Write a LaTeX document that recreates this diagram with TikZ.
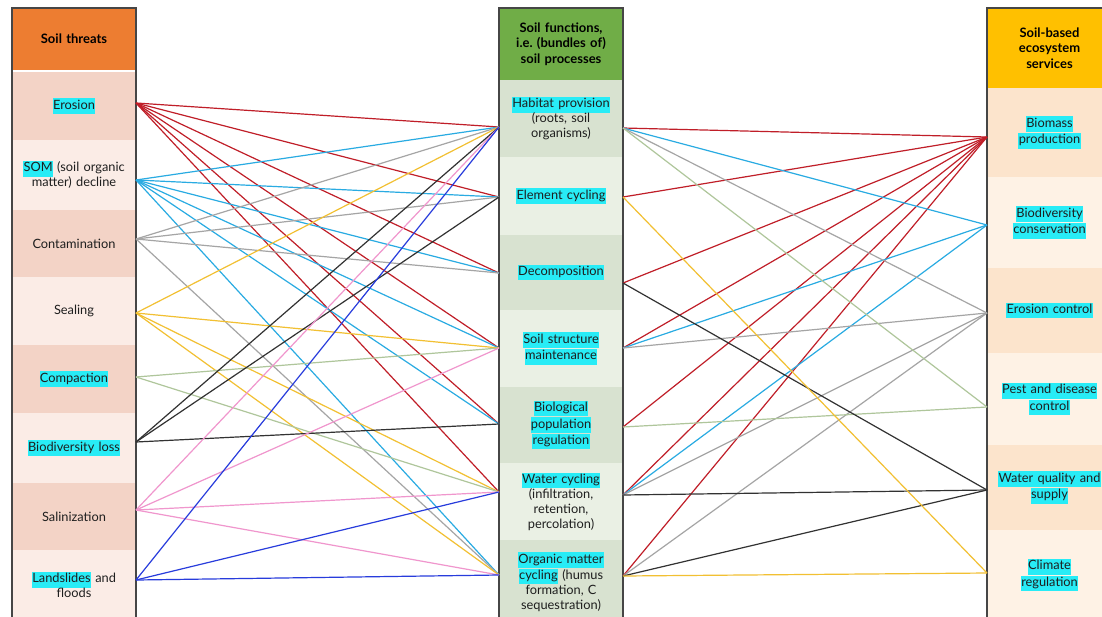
\documentclass[tikz,border=0pt]{standalone}
\usepackage{fontspec}
\setmainfont{Lato}
\frenchspacing
\definecolor{orangeH}{RGB}{237,125,49}
\definecolor{Ld}{RGB}{243,211,198}
\definecolor{Ll}{RGB}{251,236,230}
\definecolor{greenH}{RGB}{112,173,71}
\definecolor{Md}{RGB}{216,226,208}
\definecolor{Ml}{RGB}{234,240,228}
\definecolor{goldH}{RGB}{255,192,0}
\definecolor{Rd}{RGB}{252,228,204}
\definecolor{Rl}{RGB}{254,242,229}
\definecolor{framec}{RGB}{70,70,70}
\definecolor{txt}{RGB}{30,30,30}
\definecolor{hlc}{RGB}{40,236,246}
\definecolor{cred}{RGB}{192,30,40}
\definecolor{ccyan}{RGB}{41,171,226}
\definecolor{cgray}{RGB}{165,165,165}
\definecolor{cyel}{RGB}{242,192,50}
\definecolor{cgreen}{RGB}{175,198,155}
\definecolor{cblack}{RGB}{50,50,50}
\definecolor{cpink}{RGB}{240,150,205}
\definecolor{cblue}{RGB}{40,60,220}
\newcommand\hl[1]{{\setlength{\fboxsep}{0.3pt}\colorbox{hlc}{\strut #1}}}
\begin{document}
\begin{tikzpicture}[x=1pt,y=-1pt,
  every node/.style={font=\fontsize{12.8}{15}\selectfont, text=txt},
  cellL/.style={inner sep=0pt, align=center, text width=122pt, minimum width=124pt},
  cellR/.style={inner sep=0pt, align=center, text width=123pt, minimum width=125pt},
  hdr/.style={font=\fontsize{13}{15.5}\selectfont\bfseries, text=black},
  frame/.style={draw=framec, line width=1.3pt},
  con/.style={line width=1.2pt}]
\useasboundingbox (0,0) rectangle (1102,616);
\fill[white] (0,0) rectangle (1102,616);

% ---------- left column ----------
\node[cellL, hdr, fill=orangeH, minimum height=62pt] (Lh) at (74,39) {Soil threats};
\node[cellL, fill=Ld, minimum height=68pt] (ero) at (74,106) {\hl{Erosion}};
\node[cellL, fill=Ll, minimum height=70pt] (som) at (74,175) {\hl{SOM} (soil organic\\matter) decline};
\node[cellL, fill=Ld, minimum height=67pt] (con) at (74,243.5) {Contamination};
\node[cellL, fill=Ll, minimum height=68pt] (sea) at (74,311) {Sealing};
\node[cellL, fill=Ld, minimum height=68pt] (com) at (74,379) {\hl{Compaction}};
\node[cellL, fill=Ll, minimum height=70pt] (bio) at (74,448) {\hl{Biodiversity loss}};
\node[cellL, fill=Ld, minimum height=67pt] (sal) at (74,516.5) {Salinization};
\node[cellL, fill=Ll, minimum height=70pt] (lan) at (74,585) {\hl{Landslides} and\\floods};
\draw[frame] (12,8) rectangle (136,625);

% ---------- middle column ----------
\node[cellL, hdr, fill=greenH, minimum height=72pt] (Mh) at (561,44) {Soil functions,\\i.e. (bundles of)\\soil processes};
\node[cellL, fill=Md, minimum height=77pt] (hab) at (561,118.5) {\hl{Habitat provision}\\(roots, soil\\organisms)};
\node[cellL, fill=Ml, minimum height=78pt] (ele) at (561,196) {\hl{Element cycling}};
\node[cellL, fill=Md, minimum height=75pt] (dec) at (561,272.5) {\hl{Decomposition}};
\node[cellL, fill=Ml, minimum height=77pt] (str) at (561,348.5) {\hl{Soil structure}\\\hl{maintenance}};
\node[cellL, fill=Md, minimum height=76pt] (pop) at (561,425) {\hl{Biological}\\\hl{population}\\\hl{regulation}};
\node[cellL, fill=Ml, minimum height=77pt] (wat) at (561,501.5) {\hl{Water cycling}\\(infiltration,\\retention,\\percolation)};
\node[cellL, fill=Md, minimum height=84pt] (org) at (561,582) {\hl{Organic matter}\\\hl{cycling} (humus\\formation, C\\sequestration)};
\draw[frame] (499,8) rectangle (623,625);

% ---------- right column ----------
\node[cellR, hdr, fill=goldH, minimum height=80pt] (Rh) at (1049.5,48) {Soil-based\\ecosystem\\services};
\node[cellR, fill=Rd, minimum height=89pt] (bms) at (1049.5,132.5) {\hl{Biomass}\\\hl{production}};
\node[cellR, fill=Rl, minimum height=91pt] (bdc) at (1049.5,222.5) {\hl{Biodiversity}\\\hl{conservation}};
\node[cellR, fill=Rd, minimum height=85pt] (erc) at (1049.5,310.5) {\hl{Erosion control}};
\node[cellR, fill=Rl, minimum height=92pt] (pes) at (1049.5,399) {\hl{Pest and disease}\\\hl{control}};
\node[cellR, fill=Rd, minimum height=85pt] (wqs) at (1049.5,487.5) {\hl{Water quality and}\\\hl{supply}};
\node[cellR, fill=Rl, minimum height=90pt] (cli) at (1049.5,575) {\hl{Climate}\\\hl{regulation}};
\draw[frame] (987,8) rectangle (1115,625);

% ---------- ports ----------
\coordinate (L1) at (136,103); \coordinate (L2) at (136,180);
\coordinate (L3) at (136,239); \coordinate (L4) at (136,313);
\coordinate (L5) at (136,377); \coordinate (L6) at (136,442);
\coordinate (L7) at (136,510); \coordinate (L8) at (136,580);
\coordinate (ML1) at (499,127); \coordinate (ML2) at (499,197);
\coordinate (ML3) at (499,273); \coordinate (ML4) at (499,348);
\coordinate (ML5) at (499,424); \coordinate (ML6) at (499,492);
\coordinate (ML7) at (499,575);
\coordinate (MR1) at (623,128); \coordinate (MR2) at (623,197);
\coordinate (MR3) at (623,283); \coordinate (MR4) at (623,348);
\coordinate (MR5) at (623,427); \coordinate (MR6) at (623,495);
\coordinate (MR7) at (623,576);
\coordinate (R1) at (987,137); \coordinate (R2) at (987,225);
\coordinate (R3) at (987,313); \coordinate (R4) at (987,407);
\coordinate (R5) at (987,490); \coordinate (R6) at (987,573);

% ---------- left -> middle ----------
\foreach \t in {ML1,ML2,ML3,ML4,ML5,ML6} \draw[con, cred] (L1) -- (\t);
\foreach \t in {ML1,ML2,ML3,ML4,ML5,ML7} \draw[con, ccyan] (L2) -- (\t);
\foreach \t in {ML1,ML2,ML3,ML7} \draw[con, cgray] (L3) -- (\t);
\foreach \t in {ML1,ML4,ML6,ML7} \draw[con, cyel] (L4) -- (\t);
\foreach \t in {ML4,ML6} \draw[con, cgreen] (L5) -- (\t);
\foreach \t in {ML1,ML2,ML5} \draw[con, cblack] (L6) -- (\t);
\foreach \t in {ML1,ML4,ML6,ML7} \draw[con, cpink] (L7) -- (\t);
\foreach \t in {ML1,ML6,ML7} \draw[con, cblue] (L8) -- (\t);

% ---------- middle -> right ----------
\foreach \s in {MR1,MR2,MR3,MR4,MR5,MR6,MR7} \draw[con, cred] (\s) -- (R1);
\foreach \s in {MR1,MR4,MR6} \draw[con, ccyan] (\s) -- (R2);
\foreach \s in {MR1,MR4,MR6,MR7} \draw[con, cgray] (\s) -- (R3);
\foreach \s in {MR1,MR5} \draw[con, cgreen] (\s) -- (R4);
\foreach \s in {MR3,MR6,MR7} \draw[con, cblack] (\s) -- (R5);
\foreach \s in {MR2,MR7} \draw[con, cyel] (\s) -- (R6);
\end{tikzpicture}
\end{document}
